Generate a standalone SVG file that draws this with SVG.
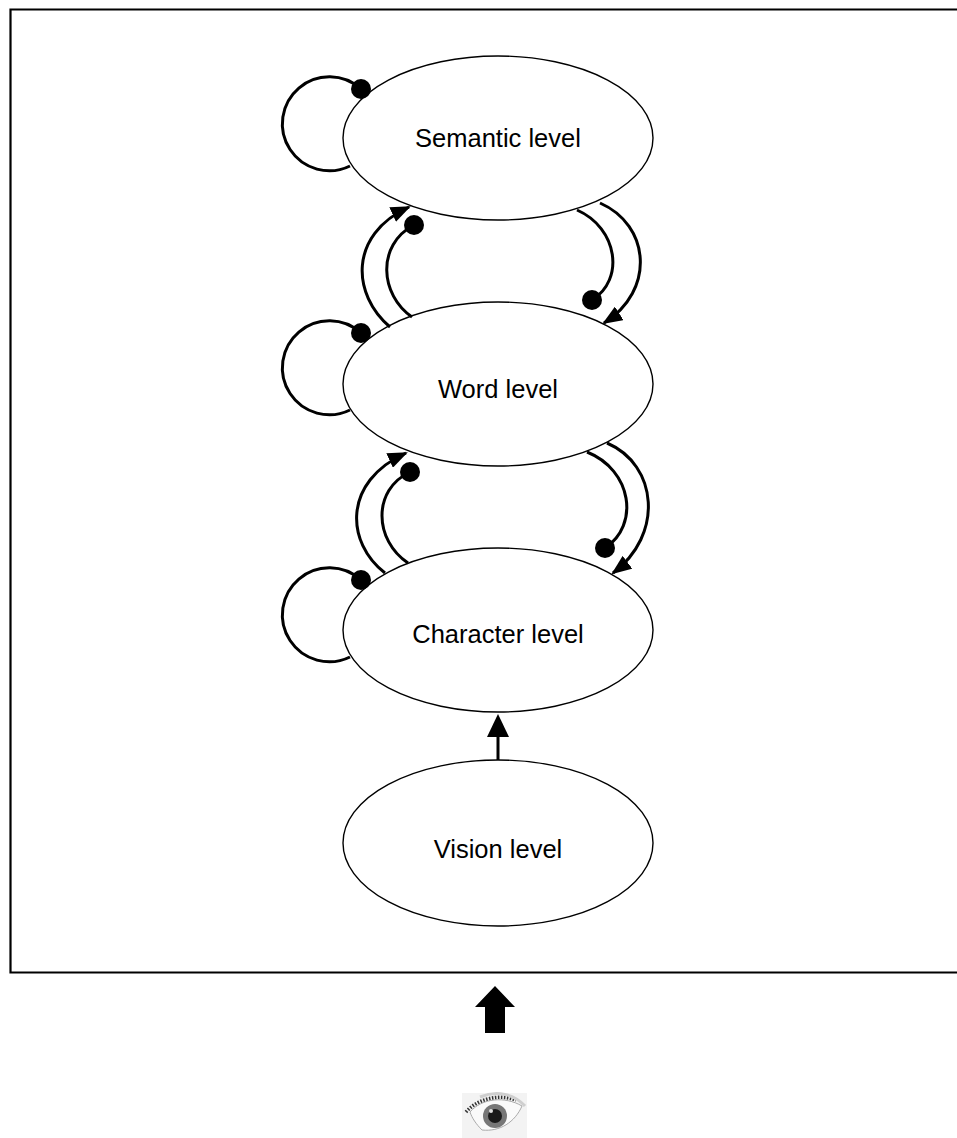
<svg xmlns="http://www.w3.org/2000/svg" width="957" height="1138" viewBox="0 0 957 1138">
<defs>
<style>
.node{fill:#fff;stroke:#000;stroke-width:1.4}
.lbl{font-family:"Liberation Sans",Arial,sans-serif;font-size:25.5px;fill:#000;text-anchor:middle}
.edge{fill:none;stroke:#000;stroke-width:3}
.dot{fill:#000}
</style>
<marker id="ah" viewBox="0 0 20 16" refX="18" refY="8" markerWidth="20" markerHeight="16" markerUnits="userSpaceOnUse" orient="auto">
<path d="M0,0 L20,8 L0,16 z" fill="#000"/>
</marker>
</defs>
<rect width="957" height="1138" fill="#fff"/>
<path d="M958,9.5 H10.5 V972.5 H958" fill="none" stroke="#000" stroke-width="2.2"/>

<g id="semantic">
<ellipse class="node" cx="498" cy="138" rx="155" ry="82"/>
<text class="lbl" x="498" y="147">Semantic level</text>
</g>
<g id="word">
<ellipse class="node" cx="498" cy="384" rx="155" ry="82"/>
<text class="lbl" x="498" y="398">Word level</text>
</g>
<g id="character">
<ellipse class="node" cx="498" cy="630" rx="155" ry="82"/>
<text class="lbl" x="498" y="643">Character level</text>
</g>
<g id="vision">
<ellipse class="node" cx="498" cy="843" rx="155" ry="83"/>
<text class="lbl" x="498" y="858">Vision level</text>
</g>

<g id="connectors">
<!-- self loops -->
<path class="edge" d="M350,166 A47,47 0 1 1 361,89"/>
<circle class="dot" cx="361" cy="89" r="10"/>
<path class="edge" d="M350,410 A47,47 0 1 1 361,333"/>
<circle class="dot" cx="361" cy="333" r="10"/>
<path class="edge" d="M350,657 A47,47 0 1 1 361,580"/>
<circle class="dot" cx="361" cy="580" r="10"/>
<!-- word -> semantic -->
<path class="edge" d="M390,327 C352,295 348,235 409,207" marker-end="url(#ah)"/>
<path class="edge" d="M412,317 C380,295 376,245 414,225"/>
<circle class="dot" cx="414" cy="225" r="10"/>
<!-- semantic -> word -->
<path class="edge" d="M600,203 C650,225 656,290 604,323" marker-end="url(#ah)"/>
<path class="edge" d="M577,210 C618,228 625,280 592,300"/>
<circle class="dot" cx="592" cy="300" r="10"/>
<!-- character -> word -->
<path class="edge" d="M385,573 C346,543 342,482 406,453" marker-end="url(#ah)"/>
<path class="edge" d="M408,563 C374,540 372,490 410,472"/>
<circle class="dot" cx="410" cy="472" r="10"/>
<!-- word -> character -->
<path class="edge" d="M607,443 C658,465 664,535 613,573" marker-end="url(#ah)"/>
<path class="edge" d="M587,452 C632,470 640,525 605,548"/>
<circle class="dot" cx="605" cy="548" r="10"/>
<!-- vision -> character -->
<path class="edge" d="M498,760 V730" />
<path d="M487,737 L498,714 L509,737 z" fill="#000"/>
</g>

<g id="input-arrow">
<path d="M495,986 L515,1007 L505,1007 L505,1033 L485,1033 L485,1007 L475,1007 z" fill="#000"/>
</g>

<g id="eye">
<rect x="462" y="1093" width="65" height="45" fill="#f3f3f3"/>
<path d="M470,1112 C482,1098 505,1096 522,1106 C515,1122 500,1132 482,1130 C476,1124 472,1118 470,1112 z" fill="#fafafa" stroke="#aaa" stroke-width="1"/>
<path d="M466,1112 C478,1098 500,1094 516,1100" fill="none" stroke="#333" stroke-width="3.5" stroke-dasharray="1.5 1.5"/>
<path d="M480,1097 C497,1090 514,1094 525,1106" fill="none" stroke="#cfcfcf" stroke-width="3"/>
<circle cx="495" cy="1116" r="12" fill="#777"/>
<circle cx="495" cy="1116" r="7" fill="#1a1a1a"/>
<circle cx="491" cy="1111" r="2" fill="#e0e0e0"/>
</g>
</svg>
